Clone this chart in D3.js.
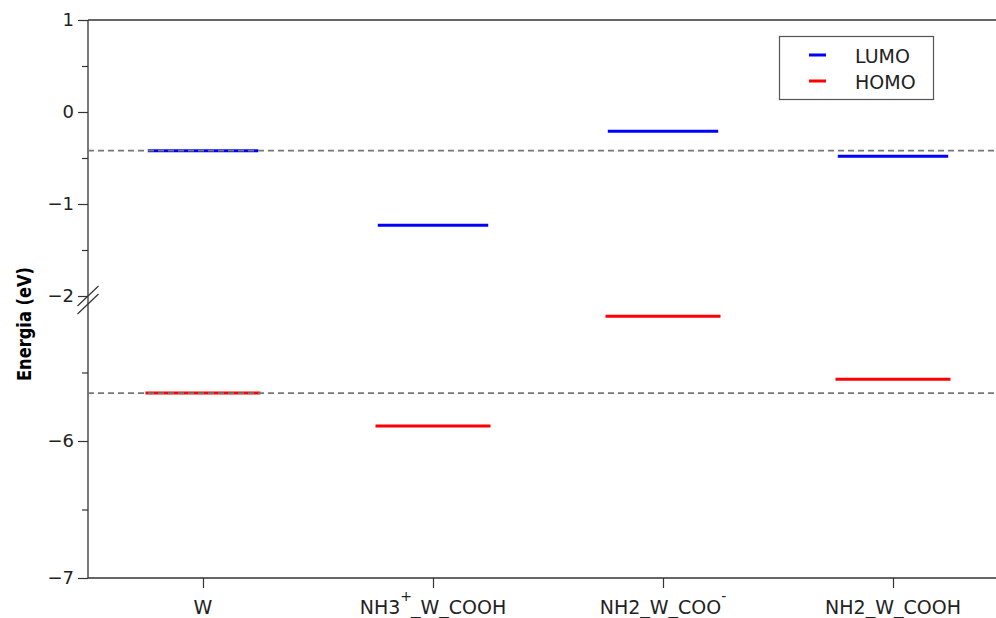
<!DOCTYPE html>
<html>
<head>
<meta charset="utf-8">
<script src="https://cdn.jsdelivr.net/npm/d3@7"></script>
<style>
  html, body { margin: 0; padding: 0; background: #fff; }
  svg { display: block; font-family: "DejaVu Sans", sans-serif; }
</style>
</head>
<body>
<svg id="chart" width="996" height="618"></svg>
<script>
// Orbital energy levels (eV) per system
const systems = ["W", "NH3_W_COOH", "NH2_W_COO", "NH2_W_COOH"];
const baseNames = ["W", "NH3", "NH2_W_COO", "NH2_W_COOH"];
const charges = ["", "+", "-", ""];
const lumo = [-0.42, -1.23, -0.21, -0.48];
const homo = [-5.65, -5.89, -5.09, -5.55];
const topTicks = [1, 0, -1, -2];
const topMinor = [0.5, -0.5, -1.5];
const bottomTicks = [-6, -7];
const bottomMinor = [-5.5, -6.5];
const seriesNames = ["LUMO", "HOMO"];
const seriesColors = ["#0000ff", "#ff0000"];

const svg = d3.select("#chart");
const left = 88, right = 1008;
const axisColor = "#333";

const x = d3.scaleLinear().domain([-0.5, systems.length - 0.5]).range([left, right]);
// Broken y axis: upper panel for LUMO, lower panel for HOMO
const yTop = d3.scaleLinear().domain([-2, 1]).range([296, 20]);
const yBot = d3.scaleLinear().domain([-7, -5]).range([578, 304]);

// frame
const frame = svg.append("g").attr("stroke", axisColor).attr("stroke-width", 1.3).attr("fill", "none");
frame.append("line").attr("x1", left).attr("x2", right).attr("y1", 20).attr("y2", 20);
frame.append("line").attr("x1", left).attr("x2", right).attr("y1", 578).attr("y2", 578);
frame.append("line").attr("x1", left).attr("x2", left).attr("y1", 20).attr("y2", 578);
frame.append("line").attr("x1", right).attr("x2", right).attr("y1", 20).attr("y2", 578);

// break marks on both sides
[left, right].forEach(px => {
  [296, 304].forEach(py => {
    frame.append("line")
      .attr("x1", px - 10.5).attr("y1", py + 10)
      .attr("x2", px + 10.5).attr("y2", py - 10)
      .attr("stroke-width", 1.2);
  });
});

// y axes (major ticks outward, minor ticks shorter)
function yAxis(scale, majors, minors) {
  const g = svg.append("g").attr("transform", `translate(${left},0)`);
  g.call(d3.axisLeft(scale).tickValues(majors).tickSize(10).tickPadding(4)
    .tickFormat(d => d3.format("d")(d).replace("-", "\u2212")));
  g.select(".domain").remove();
  g.selectAll(".tick line").attr("stroke", axisColor).attr("stroke-width", 1.2);
  g.selectAll(".tick text").attr("font-size", 18).attr("fill", "#222")
    .attr("font-family", "DejaVu Sans, sans-serif");
  const m = svg.append("g").attr("transform", `translate(${left},0)`);
  m.call(d3.axisLeft(scale).tickValues(minors).tickSize(6).tickFormat(""));
  m.select(".domain").remove();
  m.selectAll(".tick line").attr("stroke", axisColor).attr("stroke-width", 1.2);
}
yAxis(yTop, topTicks, topMinor);
yAxis(yBot, bottomTicks, bottomMinor);

// x axis ticks and labels
const xg = svg.append("g").attr("transform", "translate(0,578)");
xg.call(d3.axisBottom(x).tickValues(d3.range(systems.length)).tickSize(10).tickFormat(""));
xg.select(".domain").remove();
xg.selectAll(".tick line").attr("stroke", axisColor).attr("stroke-width", 1.2);

systems.forEach((name, i) => {
  const t = svg.append("text")
    .attr("x", x(i)).attr("y", 614)
    .attr("text-anchor", "middle")
    .attr("font-size", 19).attr("fill", "#222");
  t.append("tspan").text(baseNames[i]);
  if (charges[i]) {
    t.append("tspan").attr("dy", -13).attr("font-size", 14).text(charges[i]);
    if (name.length > baseNames[i].length) {
      t.append("tspan").attr("dy", 13).attr("dx", -1).text(name.slice(baseNames[i].length));
    }
  }
});

// energy levels
const levels = svg.append("g").attr("stroke-width", 3);
systems.forEach((name, i) => {
  levels.append("line")
    .attr("x1", x(i - 0.24)).attr("x2", x(i + 0.24))
    .attr("y1", yTop(lumo[i])).attr("y2", yTop(lumo[i]))
    .attr("stroke", seriesColors[0]);
  levels.append("line")
    .attr("x1", x(i - 0.25)).attr("x2", x(i + 0.25))
    .attr("y1", yBot(homo[i])).attr("y2", yBot(homo[i]))
    .attr("stroke", seriesColors[1]);
});

// reference levels of the bare W system
const ref = svg.append("g").attr("stroke", "#777").attr("stroke-width", 1.8)
  .attr("stroke-dasharray", "6,4");
ref.append("line").attr("x1", left).attr("x2", right)
  .attr("y1", yTop(lumo[0])).attr("y2", yTop(lumo[0]));
ref.append("line").attr("x1", left).attr("x2", right)
  .attr("y1", yBot(homo[0])).attr("y2", yBot(homo[0]));

// y label
svg.append("text")
  .attr("transform", "translate(31,324) rotate(-90)")
  .attr("text-anchor", "middle")
  .attr("font-size", 20).attr("font-weight", "bold").attr("fill", "#000")
  .attr("textLength", 114).attr("lengthAdjust", "spacingAndGlyphs")
  .text("Energia (eV)");

// legend
const lg = svg.append("g");
lg.append("rect").attr("x", 779.5).attr("y", 36.5).attr("width", 154).attr("height", 63)
  .attr("fill", "#fff").attr("stroke", "#555").attr("stroke-width", 1.2);
seriesNames.forEach((s, i) => {
  const yy = 55 + i * 26;
  lg.append("line").attr("x1", 809).attr("x2", 826).attr("y1", yy).attr("y2", yy)
    .attr("stroke", seriesColors[i]).attr("stroke-width", 3);
  lg.append("text").attr("x", 855).attr("y", yy + 7.5)
    .attr("font-size", 19).attr("fill", "#222").text(s);
});
</script>
</body>
</html>
